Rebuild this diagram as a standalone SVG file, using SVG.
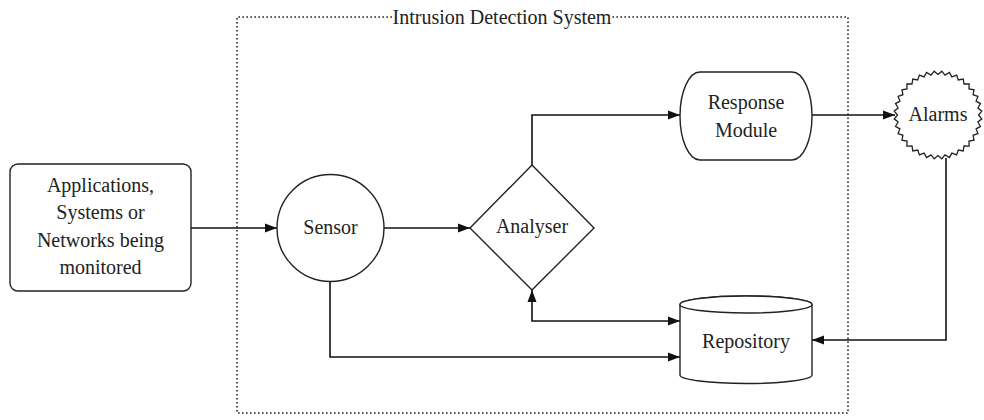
<svg xmlns="http://www.w3.org/2000/svg" width="984" height="420" viewBox="0 0 984 420">
<style>
.shape{fill:#fff;stroke:#222;stroke-width:1.4}
.conn{fill:none;stroke:#111;stroke-width:1.6}
.dot{fill:none;stroke:#222;stroke-width:1.6;stroke-dasharray:1.6 2.4}
</style>
<defs>
<marker id="ah" viewBox="0 0 12 10" refX="12" refY="5" markerWidth="12" markerHeight="10" markerUnits="userSpaceOnUse" orient="auto">
<path d="M0,0.5 L12,5 L0,9.5 Z" fill="#111"/>
</marker>
<marker id="ahs" viewBox="0 0 12 10" refX="12" refY="5" markerWidth="12" markerHeight="10" markerUnits="userSpaceOnUse" orient="auto-start-reverse">
<path d="M0,0.5 L12,5 L0,9.5 Z" fill="#111"/>
</marker>
</defs>
<g id="ids-boundary">
<path class="dot" d="M392,17 H237 V413 H848 V17 H612"/>
<text font-family="Liberation Serif" font-size="20" fill="#222" text-anchor="middle" x="502" y="24">Intrusion Detection System</text>
</g>
<g id="connectors">
<path class="conn" d="M191,228 H277" marker-end="url(#ah)"/>
<path class="conn" d="M384,228 H470" marker-end="url(#ah)"/>
<path class="conn" d="M532,165 V115 H680" marker-end="url(#ah)"/>
<path class="conn" d="M812,115 H895" marker-end="url(#ah)"/>
<path class="conn" d="M946,158 V340 H812" marker-end="url(#ah)"/>
<path class="conn" d="M532,290 V321 H680" marker-start="url(#ahs)" marker-end="url(#ah)"/>
<path class="conn" d="M330,282 V357 H680" marker-end="url(#ah)"/>
</g>
<g id="applications">
<rect class="shape" x="10" y="164" width="181" height="127" rx="8"/>
<text font-family="'Liberation Serif', serif" font-size="20" fill="#222" text-anchor="middle" x="100.5" y="192">Applications,</text>
<text font-family="'Liberation Serif', serif" font-size="20" fill="#222" text-anchor="middle" x="100.5" y="219">Systems or</text>
<text font-family="'Liberation Serif', serif" font-size="20" fill="#222" text-anchor="middle" x="100.5" y="247">Networks being</text>
<text font-family="'Liberation Serif', serif" font-size="20" fill="#222" text-anchor="middle" x="100.5" y="274">monitored</text>
</g>
<g id="sensor">
<circle class="shape" cx="330.5" cy="228" r="53.5"/>
<text font-family="Liberation Serif" font-size="20" fill="#222" text-anchor="middle" x="330.5" y="234">Sensor</text>
</g>
<g id="analyser">
<path class="shape" d="M532,165 L594,228 L532,290 L470,228 Z"/>
<text font-family="Liberation Serif,serif" font-size="20" fill="#222" text-anchor="middle" x="532" y="233">Analyser</text>
</g>
<g id="response-module">
<path class="shape" d="M700,72 H792 A20,44 0 0 1 792,160 H700 A20,44 0 0 1 700,72 Z"/>
<text font-family="Liberation Serif" font-size="20" fill="#222" text-anchor="middle" x="746" y="109">Response</text>
<text font-family="Liberation Serif" font-size="20" fill="#222" text-anchor="middle" x="746" y="137">Module</text>
</g>
<g id="alarms">
<polygon fill="#fff" stroke="#222" stroke-width="1.3" points="978.5,115 981.8,118.8 977.9,122.0 980.5,126.4 976.1,128.9 977.9,133.6 973.1,135.3 974.0,140.2 969.0,141.0 969.1,146.1 964.0,146.0 963.2,151.0 958.3,150.1 956.6,154.9 951.9,153.1 949.4,157.5 945.0,154.9 941.8,158.8 938,155.5 934.2,158.8 931.0,154.9 926.6,157.5 924.1,153.1 919.4,154.9 917.7,150.1 912.8,151.0 912.0,146.0 906.9,146.1 907.0,141.0 902.0,140.2 902.9,135.3 898.1,133.6 899.9,128.9 895.5,126.4 898.1,122.0 894.2,118.8 897.5,115 894.2,111.2 898.1,108.0 895.5,103.6 899.9,101.1 898.1,96.4 902.9,94.7 902.0,89.8 907.0,89.0 906.9,83.9 912.0,84.0 912.8,79.0 917.7,79.9 919.4,75.1 924.1,76.9 926.6,72.5 931.0,75.1 934.2,71.2 938,74.5 941.8,71.2 945.0,75.1 949.4,72.5 951.9,76.9 956.6,75.1 958.3,79.9 963.2,79.0 964.0,84.0 969.1,83.9 969.0,89.0 974.0,89.8 973.1,94.7 977.9,96.4 976.1,101.1 980.5,103.6 977.9,108.0 981.8,111.2"/>
<text font-family="Liberation Serif" font-size="20" fill="#222" text-anchor="middle" x="938" y="121">Alarms</text>
</g>
<g id="repository">
<path class="shape" d="M680,304.5 V375 A66,8.5 0 0 0 812,375 V304.5 A66,8.5 0 0 0 680,304.5 Z"/>
<ellipse class="shape" cx="746" cy="304.5" rx="66" ry="8.5"/>
<text font-family="Liberation Serif" font-size="20" fill="#222" text-anchor="middle" x="746" y="348">Repository</text>
</g>
</svg>
